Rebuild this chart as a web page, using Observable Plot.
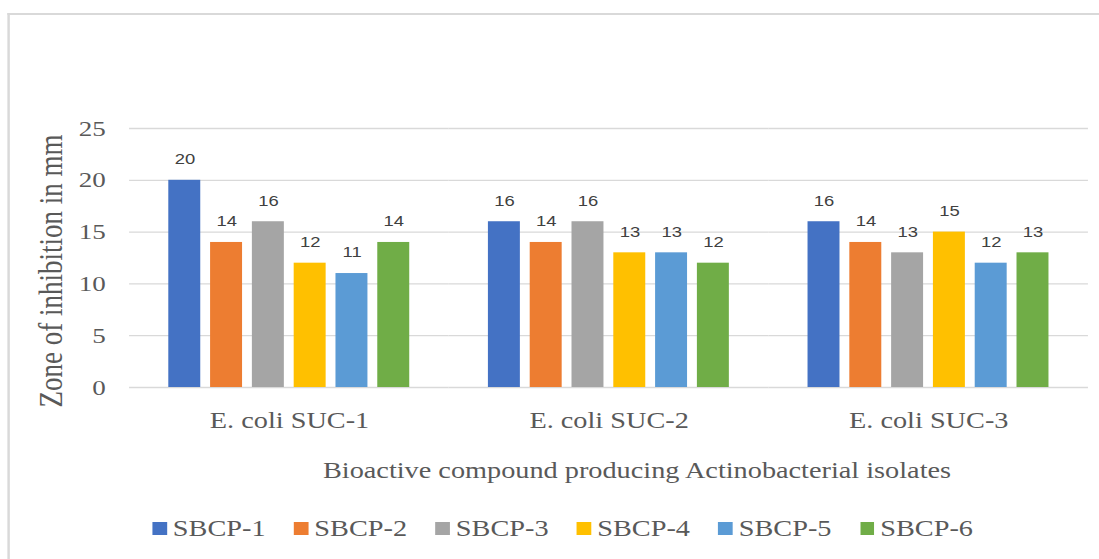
<!DOCTYPE html>
<html>
<head>
<meta charset="utf-8">
<script src="https://cdn.jsdelivr.net/npm/d3@7"></script>
<script src="https://cdn.jsdelivr.net/npm/@observablehq/plot@0.6"></script>
<style>
  html, body { margin: 0; padding: 0; background: #fff; overflow: hidden; }
  #page { position: relative; width: 1099px; height: 559px; overflow: hidden; }
  #wrap { position: absolute; left: 0; top: 0; width: 894px; height: 559px;
          transform: scaleX(1.2293); transform-origin: 0 0; }
  #frame { position: absolute; left: 5.7px; top: 13px; right: -10px; bottom: -10px;
           border-left: 2px solid #d9d9d9; border-top: 2px solid #d9d9d9; }
  #chart { position: absolute; left: 0; top: 0; }
  .serif { font-family: "Liberation Serif", "Times New Roman", serif; color: #595959; }
  #ytitle { position: absolute; left: 42.3px; top: 271px; font-size: 27px; line-height: 27px;
            white-space: nowrap; transform: translate(-50%, -50%) rotate(-90deg); }
  #xtitle { position: absolute; left: 518.2px; top: 458.7px; font-size: 23px; line-height: 23px;
            white-space: nowrap; transform: translateX(-50%); }
  #legend { position: absolute; left: 124.1px; top: 517px; display: flex; align-items: center;
            font-size: 23px; line-height: 23px; }
  .item { width: 115.1px; display: flex; align-items: center; white-space: nowrap; }
  .sw { width: 11.5px; height: 13px; margin-right: 5px; flex: none; }
</style>
</head>
<body>
<div id="page">
  <div id="wrap">
    <div id="frame"></div>
    <div id="chart"></div>
    <div id="ytitle" class="serif">Zone of inhibition in mm</div>
    <div id="xtitle" class="serif">Bioactive compound producing Actinobacterial isolates</div>
    <div id="legend" class="serif"></div>
  </div>
</div>
<script>
// Categories (x groups)
const groups = ["E. coli SUC-1", "E. coli SUC-2", "E. coli SUC-3"];
// Series
const series = ["SBCP-1", "SBCP-2", "SBCP-3", "SBCP-4", "SBCP-5", "SBCP-6"];
const colors = ["#4472C4", "#ED7D31", "#A5A5A5", "#FFC000", "#5B9BD5", "#70AD47"];
// Values per series, in group order
const sbcp1 = [20, 16, 16];
const sbcp2 = [14, 14, 14];
const sbcp3 = [16, 16, 13];
const sbcp4 = [12, 13, 15];
const sbcp5 = [11, 13, 12];
const sbcp6 = [14, 12, 13];
const yTicks = [0, 5, 10, 15, 20, 25];

const seriesValues = [sbcp1, sbcp2, sbcp3, sbcp4, sbcp5, sbcp6];
const data = [];
groups.forEach((g, gi) => {
  series.forEach((s, si) => {
    data.push({group: g, series: s, value: seriesValues[si][gi]});
  });
});

const chart = Plot.plot({
  width: 894,
  height: 500,
  marginLeft: 104.1,
  marginRight: 8.9,
  marginTop: 128,
  marginBottom: 113,
  style: {fontFamily: "'Liberation Serif', 'Times New Roman', serif", fontSize: "22px", color: "#595959", background: "transparent", overflow: "visible"},
  fx: {domain: groups, padding: 0},
  x: {domain: series, paddingInner: 0.225, paddingOuter: 0.868, axis: null},
  y: {domain: [0, 25]},
  color: {domain: series, range: colors},
  marks: [
    Plot.gridY(yTicks, {stroke: "#d9d9d9", strokeOpacity: 1, strokeWidth: 1.3}),
    Plot.axisY({ticks: yTicks, tickSize: 0, tickPadding: 19.5, fontSize: 22, label: null}),
    Plot.axisFx({anchor: "bottom", tickSize: 0, tickPadding: 24, fontSize: 23, label: null}),
    Plot.barY(data, {fx: "group", x: "series", y: "value", fill: "series"}),
    Plot.text(data, {fx: "group", x: "series", y: "value", text: d => String(d.value),
      dy: -21, lineAnchor: "middle", fontSize: 15, fill: "#404040",
      fontFamily: "'Liberation Sans', Arial, sans-serif"})
  ]
});
document.getElementById("chart").appendChild(chart);

const legend = document.getElementById("legend");
series.forEach((s, i) => {
  const item = document.createElement("div");
  item.className = "item";
  const sw = document.createElement("span");
  sw.className = "sw";
  sw.style.background = colors[i];
  const label = document.createElement("span");
  label.textContent = s;
  item.appendChild(sw);
  item.appendChild(label);
  legend.appendChild(item);
});
</script>
</body>
</html>
